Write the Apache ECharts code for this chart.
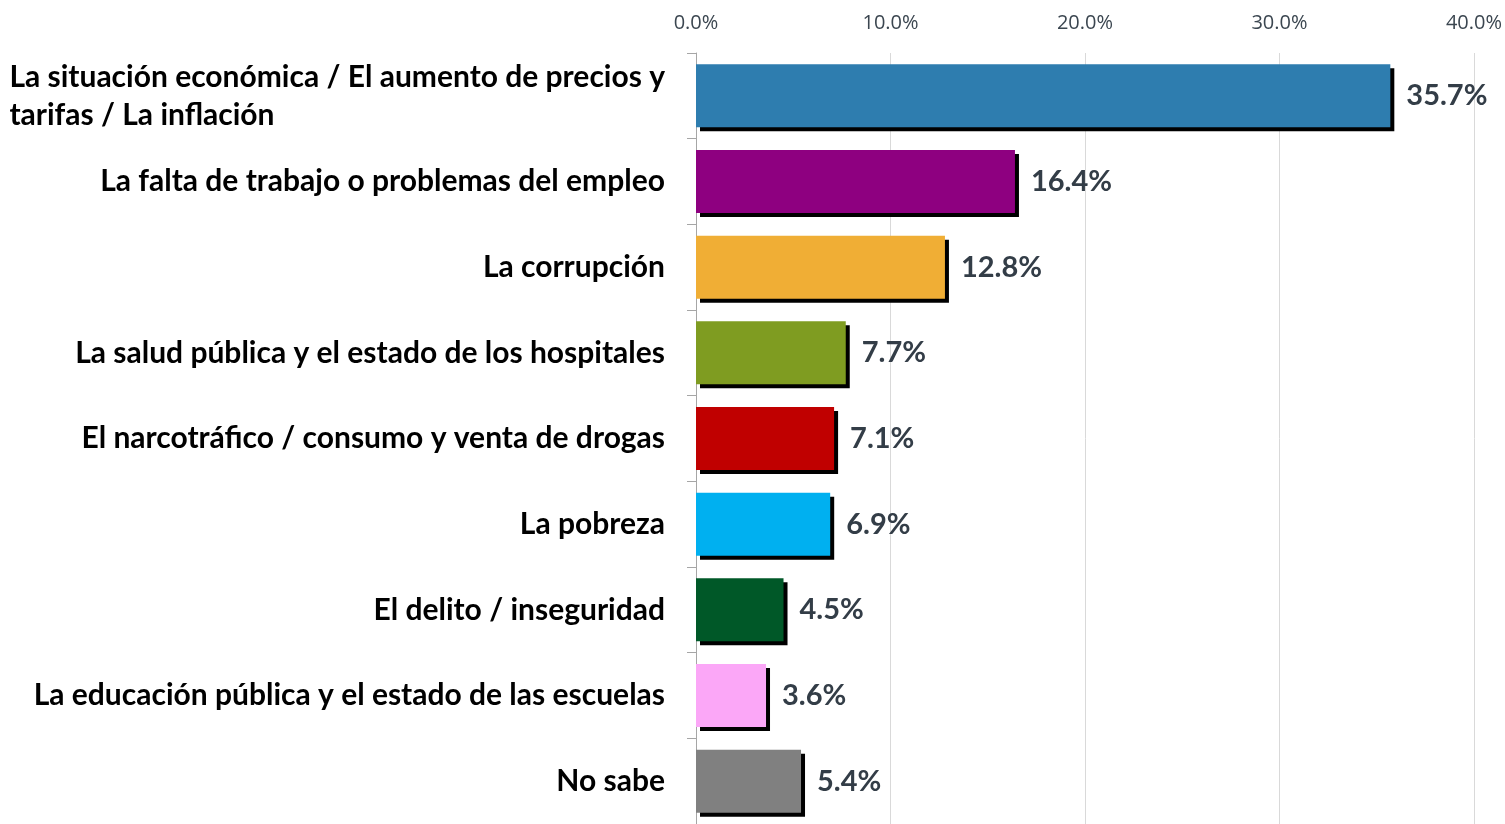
<!DOCTYPE html>
<html>
<head>
<meta charset="utf-8">
<script src="https://cdn.jsdelivr.net/npm/echarts@6/dist/echarts.min.js"></script>
<style>
  html, body { margin: 0; padding: 0; background: #fff; }
  #chart { width: 1505px; height: 824px; }
</style>
</head>
<body>
<div id="chart"></div>
<script>
  // Data
  const categories = [
    "La situación económica / El aumento de precios y\ntarifas / La inflación",
    "La falta de trabajo o problemas del empleo",
    "La corrupción",
    "La salud pública y el estado de los hospitales",
    "El narcotráfico / consumo y venta de drogas",
    "La pobreza",
    "El delito / inseguridad",
    "La educación pública y el estado de las escuelas",
    "No sabe"
  ];
  const values = [35.7, 16.4, 12.8, 7.7, 7.1, 6.9, 4.5, 3.6, 5.4];
  const barColors = ["#2E7DAF", "#8E0080", "#F0AE35", "#7F9C21", "#C00000", "#00B0F0", "#005828", "#FBA7F7", "#808080"];
  const tickLabels = ["0.0%", "10.0%", "20.0%", "30.0%", "40.0%"];

  let chart = echarts.init(document.getElementById("chart"));

  const catFont = "Lato";

  let option = {
    animation: false,
    grid: { left: 696, right: 30, top: 53, bottom: -3, containLabel: false },
    xAxis: {
      type: "value",
      position: "top",
      min: 0,
      max: 40,
      interval: 10,
      axisLine: { show: false },
      axisTick: { show: false },
      splitLine: { lineStyle: { color: "#D9D9D9", width: 1 } },
      axisLabel: {
        margin: 20,
        fontSize: 20,
        fontFamily: "Open Sans",
        color: "#3B4650",
        formatter: function (v) { return tickLabels[Math.round(v / 10)]; }
      }
    },
    yAxis: {
      type: "category",
      inverse: true,
      data: categories,
      axisLine: { show: true, lineStyle: { color: "#A6A6A6", width: 1 } },
      axisTick: { show: true, length: 9, lineStyle: { color: "#A6A6A6" } },
      axisLabel: {
        margin: 31,
        // rich text so the wrapped first label stays left-aligned as a block
        formatter: function (v) {
          return v.split("\n").map(function (s) { return "{l|" + s + "}"; }).join("\n");
        },
        rich: {
          l: {
            align: "left",
            fontSize: 30,
            fontWeight: "bold",
            fontFamily: catFont,
            color: "#000",
            lineHeight: 38
          }
        }
      }
    },
    series: [
      {
        type: "bar",
        data: values.map(function (v, i) {
          return { value: v, itemStyle: { color: barColors[i] } };
        }),
        barWidth: 63,
        itemStyle: {
          shadowColor: "#000",
          shadowBlur: 0,
          shadowOffsetX: 4,
          shadowOffsetY: 4
        },
        label: {
          show: true,
          position: "right",
          distance: 16,
          fontSize: 29,
          fontWeight: "bold",
          fontFamily: catFont,
          color: "#333D47",
          formatter: function (p) { return p.value.toFixed(1) + "%"; }
        }
      }
    ]
  };

  chart.setOption(option);
</script>
</body>
</html>
